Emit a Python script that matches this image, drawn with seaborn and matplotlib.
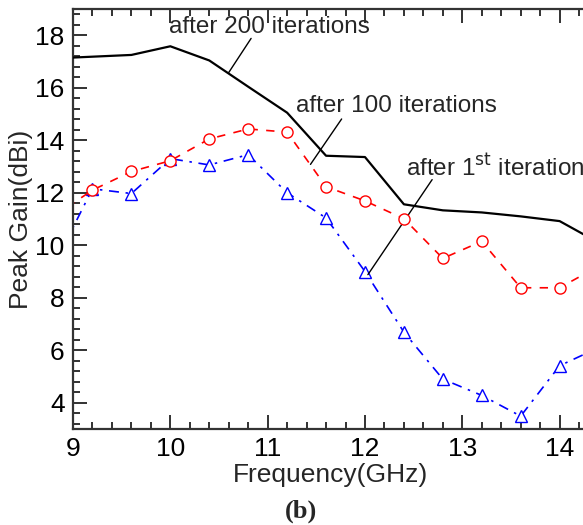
import matplotlib
matplotlib.use("Agg")
import matplotlib.pyplot as plt
import seaborn as sns
import pandas as pd
from matplotlib.ticker import MultipleLocator

# ---- data ----
freq_200 = [9.0, 9.6, 10.0, 10.4, 10.8, 11.2, 11.6, 12.0, 12.4, 12.8, 13.2, 13.6, 14.0, 14.4]
gain_200 = [17.15, 17.25, 17.58, 17.04, 16.04, 15.05, 13.41, 13.36, 11.56, 11.33, 11.25, 11.1, 10.92, 10.1]

freq_100 = [8.8, 9.2, 9.6, 10.0, 10.4, 10.8, 11.2, 11.6, 12.0, 12.4, 12.8, 13.2, 13.6, 14.0, 14.4]
gain_100 = [11.1, 12.1, 12.81, 13.22, 14.05, 14.43, 14.31, 12.23, 11.69, 11.01, 9.5, 10.15, 8.38, 8.38, 9.2]

freq_1 = [8.8, 9.2, 9.6, 10.0, 10.4, 10.8, 11.2, 11.6, 12.0, 12.4, 12.8, 13.2, 13.6, 14.0, 14.4]
gain_1 = [9.2, 12.15, 11.97, 13.3, 13.06, 13.45, 12.0, 11.04, 9.0, 6.69, 4.9, 4.28, 3.49, 5.41, 6.1]

x_ticks = [9, 10, 11, 12, 13, 14]
y_ticks = [4, 6, 8, 10, 12, 14, 16, 18]

sns.set_style("ticks")
plt.rcParams['font.family'] = ['Liberation Sans', 'DejaVu Sans']

fig = plt.figure(figsize=(5.83, 5.25), dpi=100)
ax = fig.add_axes([73/583, 1 - 429/525, 1 - 73/583 + 0.01, (429 - 9)/525])

df200 = pd.DataFrame({"f": freq_200, "g": gain_200})
df100 = pd.DataFrame({"f": freq_100, "g": gain_100})
df1 = pd.DataFrame({"f": freq_1, "g": gain_1})

sns.lineplot(data=df200, x="f", y="g", ax=ax, color="black", lw=1.6, zorder=3)
sns.lineplot(data=df1, x="f", y="g", ax=ax, color="blue", lw=1.2, marker="^",
             markersize=9, markerfacecolor="white", markeredgecolor="blue",
             markeredgewidth=1.0, dashes=False, zorder=2)
ax.lines[-1].set_dashes([6, 4, 1.5, 4])
sns.lineplot(data=df100, x="f", y="g", ax=ax, color="red", lw=1.2, marker="o",
             markersize=8, markerfacecolor="white", markeredgecolor="red",
             markeredgewidth=1.0, zorder=2.5)
ax.lines[-1].set_dashes([5, 5])

ax.set_xlim(9, 14.3)
ax.set_ylim(3, 19)
ax.set_xticks(x_ticks)
ax.set_yticks(y_ticks)
ax.xaxis.set_minor_locator(MultipleLocator(0.2))
ax.yaxis.set_minor_locator(MultipleLocator(0.4))
ax.tick_params(which="both", direction="in", top=True, right=False, labelsize=19,
               width=1.3, colors="#222222", labelcolor="black")
ax.tick_params(which="major", length=10, pad=6)
ax.tick_params(which="minor", length=5)
for s in ["left", "bottom", "top"]:
    ax.spines[s].set_linewidth(1.6)
    ax.spines[s].set_color("#333333")
ax.spines["right"].set_visible(False)

ax.set_xlabel("Frequency(GHz)", fontsize=19, labelpad=1)
ax.set_ylabel("Peak Gain(dBi)", fontsize=19, labelpad=2)

# annotations
ax.text(11.02, 18.31, "after 200 iterations", fontsize=17.5, ha="center", va="center")
ax.plot([10.83, 10.60], [17.88, 16.58], color="black", lw=1.0)
ax.text(11.29, 15.31, "after 100 iterations", fontsize=17.5, ha="left", va="center")
ax.plot([11.76, 11.44], [14.81, 13.08], color="black", lw=1.0)
ax.text(12.42, 12.96, r"after 1$^{\mathrm{st}}$ iteration", fontsize=17.5, ha="left", va="center")
ax.plot([12.69, 12.03], [12.5, 8.88], color="black", lw=1.0)

fig.text(301/583, 1 - 511/525, "(b)", fontsize=19, fontweight="bold",
         family="Liberation Serif", ha="center", va="center")

fig.savefig("out.png", dpi=100)
